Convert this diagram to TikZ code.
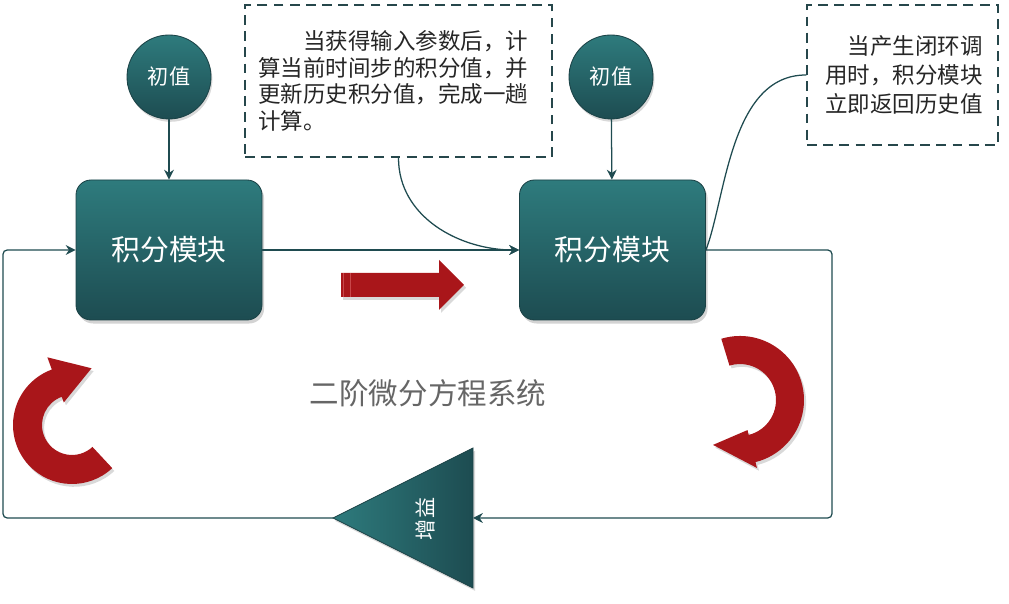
\documentclass[tikz,border=0pt]{standalone}
\usepackage{fontspec}
\setmainfont{Noto Sans CJK SC}
\usepackage{tikz}
\usetikzlibrary{arrows.meta,shadows}
\usepackage{xcolor}
\definecolor{tealtop}{HTML}{2E7B7D}
\definecolor{tealbot}{HTML}{1D4C51}
\definecolor{tealedge}{HTML}{1B4246}
\definecolor{linecol}{HTML}{1F4B50}
\definecolor{notecol}{HTML}{26474B}
\definecolor{arrowred}{HTML}{A9161A}
\definecolor{stripered}{HTML}{C8474A}

\newcommand{\swirlarrow}[8]{%
  \fill[redarrow] ([shift={#1}]#2:#5) arc[start angle=#2,end angle=#3,radius=#5]
    -- ([shift={#1}]#3:#7) -- ([shift={#1}]#8) -- ([shift={#1}]#3:#6)
    -- ([shift={#1}]#3:#4) arc[start angle=#3,end angle=#2,radius=#4] -- cycle;}

\begin{document}
\begin{tikzpicture}[>={Stealth[length=7pt,width=7pt]},line cap=round,
  conn/.style={draw=linecol,line width=0.9pt},
  block/.style={rectangle,rounded corners=0.375cm,minimum width=4.65cm,minimum height=3.5cm,
    top color=tealtop,bottom color=tealbot,draw=tealedge,line width=0.6pt,text=white,
    font=\fontsize{20.5}{24}\selectfont,
    drop shadow={shadow xshift=1.5pt,shadow yshift=-2.5pt,opacity=0.35}},
  initval/.style={circle,minimum size=2.1cm,top color=tealtop,bottom color=tealbot,
    draw=tealedge,line width=0.6pt,text=white,font=\fontsize{15}{18}\selectfont,
    drop shadow={shadow xshift=1pt,shadow yshift=-2pt,opacity=0.3}},
  note/.style={draw=notecol,line width=1.4pt,line cap=butt,dash pattern=on 7pt off 4.5pt,
    fill=white,text=black!85,font=\fontsize{16}{19}\selectfont},
  redarrow/.style={fill=arrowred,drop shadow={shadow xshift=1.5pt,shadow yshift=-2pt,opacity=0.3}}]
\useasboundingbox (0,0) rectangle (25.225,15.1);

\node[initval] (init1) at (4.225,13.175) {初值};
\node[initval] (init2) at (15.275,13.175) {初值};
\node[block] (integ1) at (4.225,8.85) {积分模块};
\node[block] (integ2) at (15.3125,8.85) {积分模块};

\node[note,minimum width=7.675cm,minimum height=3.8cm,text width=7cm,align=left] (noteA) at (9.9625,13.075)
  {\hspace*{2em}当获得输入参数后，计\\算当前时间步的积分值，并\\更新历史积分值，完成一趟\\计算。};
\node[note,minimum width=4.775cm,minimum height=3.5cm,text width=4cm,align=right,
  font=\fontsize{16}{20.5}\selectfont] (noteB) at (22.5625,13.225)
  {当产生闭环调\\用时，积分模块\\立即返回历史值};

% gain
\coordinate (gainTip) at (8.325,2.15);
\coordinate (gainBase) at (11.825,2.15);
\shade[left color=tealtop,right color=tealbot,draw=tealedge,line width=0.6pt,
  drop shadow={shadow xshift=1.5pt,shadow yshift=-2pt,opacity=0.3}]
  (gainTip) -- (11.825,3.9) -- (11.825,0.4) -- cycle;
\node[rotate=90,text=white,font=\fontsize{15}{18}\selectfont] (gain) at (10.625,2.125) {增益};

\coordinate (loopR) at (20.8,2.15);
\coordinate (loopL) at (0.075,2.15);

\draw[conn,->] (init1) -- (integ1);
\draw[conn,->] (init2) -- (integ2);
\draw[conn,->] (integ1) -- (integ2);
\draw[conn,->] (noteA.south) to[out=-90,in=180] (integ2.west);
\draw[conn] (integ2.east) .. controls +(0.5,1.3) and +(-1.9,0) .. (noteB.west);
\draw[conn,->,rounded corners=3pt] (integ2.east) -| (loopR) -- (gainBase);
\draw[conn,->,rounded corners=3pt] (gainTip) -- (loopL) |- (integ1.west);

\node[text=black!60,font=\fontsize{21}{24}\selectfont] (system) at (10.7,5.275) {二阶微分方程系统};

% red arrows
\fill[redarrow] (8.525,8.275) -- (10.975,8.275) -- (10.975,8.6) -- (11.6,7.975)
  -- (10.975,7.35) -- (10.975,7.675) -- (8.525,7.675) -- cycle;
\draw[stripered,line width=0.5pt,line cap=butt] (8.58,8.27) -- (8.58,7.68) (8.75,8.27) -- (8.75,7.68);
\swirlarrow{(18.5,5.1)}{107}{-76}{0.9}{1.6}{0.775}{1.75}{-121:1.31}
\swirlarrow{(1.8,4.475)}{-47}{-250}{0.75}{1.475}{0.6}{1.8}{-289:1.5}
\end{tikzpicture}
\end{document}
